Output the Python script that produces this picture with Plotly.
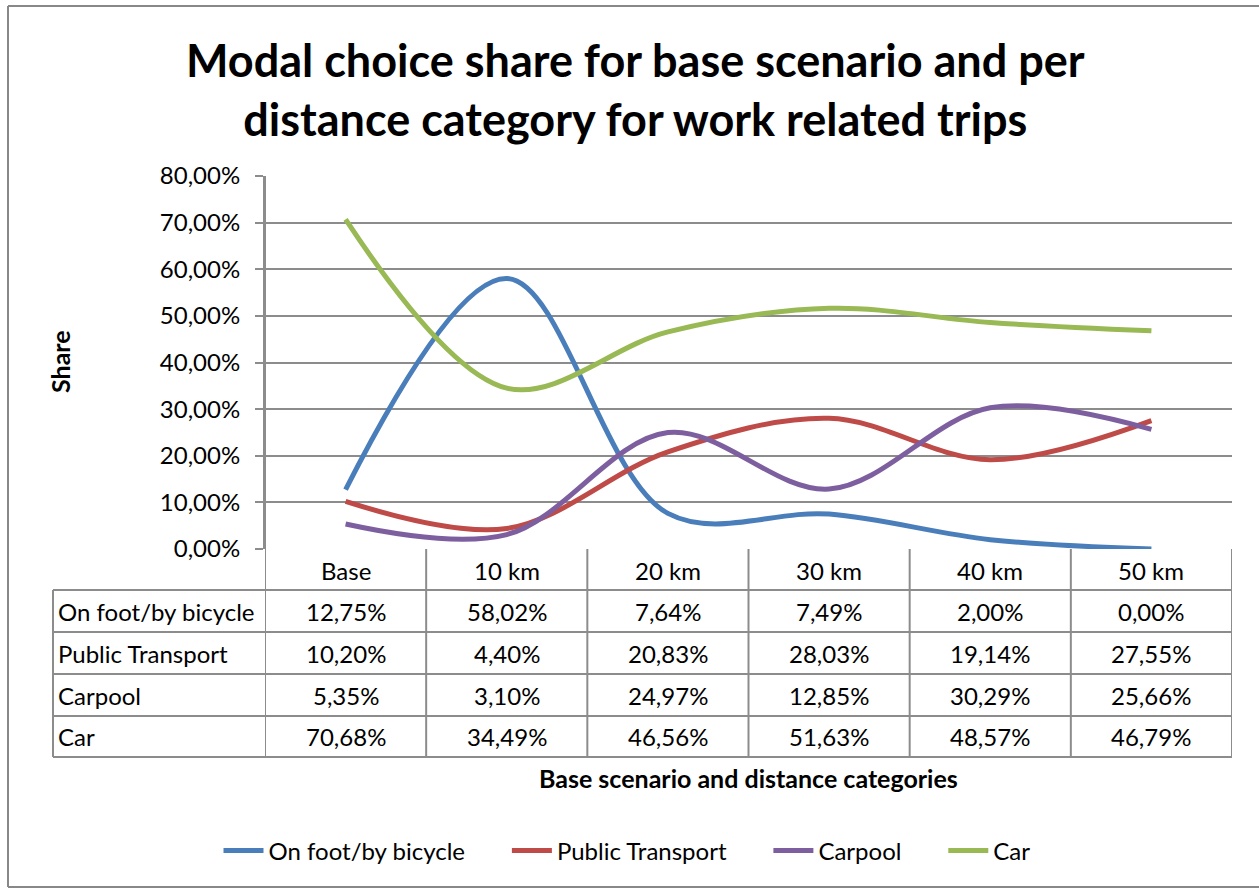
import plotly.graph_objects as go

categories = ["Base", "10 km", "20 km", "30 km", "40 km", "50 km"]
series_names = ["On foot/by bicycle", "Public Transport", "Carpool", "Car"]
foot_bicycle = [12.75, 58.02, 7.64, 7.49, 2.00, 0.00]
public_transport = [10.20, 4.40, 20.83, 28.03, 19.14, 27.55]
carpool = [5.35, 3.10, 24.97, 12.85, 30.29, 25.66]
car = [70.68, 34.49, 46.56, 51.63, 48.57, 46.79]
series_values = [foot_bicycle, public_transport, carpool, car]
colors = ["#4A7EBB", "#BE4B48", "#7D5FA0", "#98B954"]
y_ticks = [0, 0.1, 0.2, 0.3, 0.4, 0.5, 0.6, 0.7, 0.8]

W, H = 1259, 888
L, R, T, B = 265, 1232, 176, 549
FONT = "Lato, Carlito, Calibri, sans-serif"
GRID = "#8C8C8C"
FS = 24
LEGEND_PAD = "&nbsp;" * 6


def px(x):
    return (x - L) / (R - L)


def py(y):
    return (B - y) / (B - T)


fig = go.Figure()
for name, vals, col in zip(series_names, series_values, colors):
    fig.add_trace(go.Scatter(
        x=categories, y=[v / 100 for v in vals], name=name + LEGEND_PAD, mode="lines",
        line=dict(color=col, width=5, shape="spline", smoothing=1.0),
    ))

shapes = []
# outer chart border (top, left, bottom; right edge falls outside the picture)
border = dict(color="#888888", width=2)
shapes.append(dict(type="line", xref="paper", yref="paper", x0=px(8), x1=px(1259),
                   y0=py(6), y1=py(6), line=border))
shapes.append(dict(type="line", xref="paper", yref="paper", x0=px(8), x1=px(8),
                   y0=py(6), y1=py(887), line=border))
shapes.append(dict(type="line", xref="paper", yref="paper", x0=px(8), x1=px(1259),
                   y0=py(887), y1=py(887), line=border))
# table rows
row_edges = [590, 632, 674, 716, 757]
for ry in row_edges:
    shapes.append(dict(type="line", xref="paper", yref="paper", x0=px(53), x1=1,
                       y0=py(ry), y1=py(ry), line=dict(color=GRID, width=2)))
# left border of row-label column
shapes.append(dict(type="line", xref="paper", yref="paper", x0=px(53), x1=px(53),
                   y0=py(590), y1=py(757), line=dict(color=GRID, width=2)))
# column separators
for i in range(len(categories) + 1):
    shapes.append(dict(type="line", xref="x", yref="paper", x0=i - 0.5, x1=i - 0.5,
                       y0=0 if i > 0 else 1, y1=py(757), line=dict(color=GRID, width=2)))

annotations = []
annotations.append(dict(x=px(635), y=py(89), xref="paper", yref="paper",
                        text="<b>Modal choice share for base scenario and per<br>distance category for work related trips</b>",
                        showarrow=False, xanchor="center", yanchor="middle",
                        font=dict(size=45, color="#000000", family=FONT)))
# header row
for i, c in enumerate(categories):
    annotations.append(dict(x=i, y=py(570), xref="x", yref="paper", text=c, showarrow=False,
                            xanchor="center", yanchor="middle",
                            font=dict(size=FS, color="#000000", family=FONT)))
row_centers = [611, 653, 695, 736]
for name, vals, ry in zip(series_names, series_values, row_centers):
    annotations.append(dict(x=px(56), y=py(ry), xref="paper", yref="paper", text=name,
                            showarrow=False, xanchor="left", yanchor="middle",
                            font=dict(size=FS, color="#000000", family=FONT)))
    for i, v in enumerate(vals):
        annotations.append(dict(x=i, y=py(ry), xref="x", yref="paper",
                                text=f"{v:.2f}%".replace(".", ","), showarrow=False,
                                xanchor="center", yanchor="middle",
                                font=dict(size=FS, color="#000000", family=FONT)))
annotations.append(dict(x=px(748), y=py(778), xref="paper", yref="paper",
                        text="<b>Base scenario and distance categories</b>", showarrow=False,
                        xanchor="center", yanchor="middle",
                        font=dict(size=25, color="#000000", family=FONT)))
annotations.append(dict(x=px(60), y=py(362), xref="paper", yref="paper", text="<b>Share</b>",
                        showarrow=False, textangle=-90, xanchor="center", yanchor="middle",
                        font=dict(size=25, color="#000000", family=FONT)))

fig.update_layout(
    width=W, height=H,
    margin=dict(l=L, r=W - R, t=T, b=H - B, pad=0),
    paper_bgcolor="white", plot_bgcolor="white",
    separators=",.",
    xaxis=dict(type="category", range=[-0.5, 5.5], showticklabels=False, showgrid=False,
               zeroline=False, showline=False, ticks=""),
    yaxis=dict(range=[0, 0.8], tickvals=y_ticks, tickformat=".2%", showgrid=True,
               gridcolor=GRID, gridwidth=2, zeroline=False, showline=True, linecolor=GRID,
               linewidth=2, ticks="outside", ticklen=8, tickcolor=GRID, tickwidth=2,
               ticklabelstandoff=10,
               tickfont=dict(size=FS, color="#000000", family=FONT)),
    legend=dict(orientation="h", x=px(645), xanchor="center", y=py(851), yanchor="middle",
                font=dict(size=FS, color="#000000", family=FONT), itemwidth=40,
                bgcolor="rgba(0,0,0,0)"),
    shapes=shapes, annotations=annotations, showlegend=True,
)

fig.write_html("out.html", config={"displayModeBar": False},
               post_script="document.body.style.margin='0';document.body.style.overflow='hidden';")
